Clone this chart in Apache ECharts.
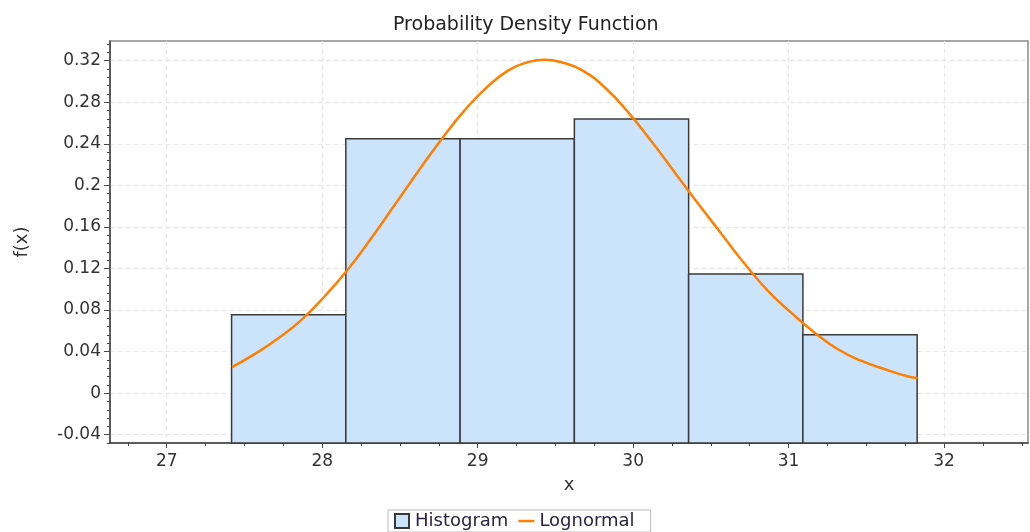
<!DOCTYPE html>
<html>
<head>
<meta charset="utf-8">
<script src="https://cdn.jsdelivr.net/npm/echarts@6/dist/echarts.min.js"></script>
<style>html,body{margin:0;padding:0;background:#fff}#c{width:1030px;height:532px}</style>
</head>
<body>
<div id="c"></div>
<script>
// ---- data ----
const binEdges = [27.417, 28.152, 28.887, 29.622, 30.357, 31.092, 31.827];
const binDensity = [0.0755, 0.2449, 0.2449, 0.2638, 0.1146, 0.0562];
const curveX = [27.42, 27.57, 27.72, 27.87, 28.02, 28.17, 28.32, 28.47, 28.62, 28.77, 28.92, 29.07, 29.20, 29.31, 29.43, 29.55, 29.67, 29.82, 29.97, 30.12, 30.27, 30.42, 30.57, 30.72, 30.87, 31.02, 31.17, 31.32, 31.47, 31.62, 31.77, 31.83];
const curveY = [0.025, 0.038, 0.053, 0.071, 0.094, 0.120, 0.150, 0.182, 0.214, 0.245, 0.273, 0.296, 0.311, 0.318, 0.321, 0.318, 0.311, 0.294, 0.270, 0.242, 0.212, 0.182, 0.153, 0.124, 0.098, 0.077, 0.058, 0.042, 0.031, 0.023, 0.016, 0.0145];
const xTicks = [27, 28, 29, 30, 31, 32];
const yTicks = [-0.04, 0, 0.04, 0.08, 0.12, 0.16, 0.2, 0.24, 0.28, 0.32];
const xRange = [26.635, 32.54];
const yRange = [-0.048, 0.339];

// minor tick positions
const xMinor = [];
for (let i = Math.ceil(xRange[0] * 4); i <= Math.floor(xRange[1] * 4); i++) xMinor.push(i / 4);
const yMinor = [];
for (let i = Math.ceil(yRange[0] / 0.008); i <= Math.floor(yRange[1] / 0.008); i++) yMinor.push(+(i * 0.008).toFixed(3));

const bins = binDensity.map((d, i) => [binEdges[i], binEdges[i + 1], d]);
const curve = curveX.map((x, i) => [x, curveY[i]]);

const font = 'DejaVu Sans, Verdana, sans-serif';
const chart = echarts.init(document.getElementById('c'));
const gridLine = { show: true, lineStyle: { color: '#e4e4e4', type: [4, 4], width: 1 } };

chart.setOption({
  animation: false,
  title: {
    text: 'Probability Density Function', left: 388, top: 11,
    textStyle: { fontFamily: font, fontSize: 19, fontWeight: 'normal', color: '#222' }
  },
  legend: {
    bottom: 0, left: 388,
    data: [
      { name: 'Histogram', icon: 'path://M0,0 H14 V14 H0 Z' },
      { name: 'Lognormal', icon: 'path://M0,0 H16 V2.5 H0 Z' }
    ],
    symbolKeepAspect: true,
    itemWidth: 16, itemHeight: 14, itemGap: 10,
    borderColor: '#bbb', borderWidth: 1, borderRadius: 0, padding: [2, 16, 2, 6],
    textStyle: { fontFamily: font, fontSize: 18, color: '#2a2440' }
  },
  grid: { left: 110, right: 2, top: 41, bottom: 89, show: true, borderColor: '#8a8a8a', borderWidth: 1.5 },
  xAxis: [{
    type: 'value', min: xRange[0], max: xRange[1],
    name: 'x', nameLocation: 'middle', nameGap: 33,
    nameTextStyle: { fontFamily: font, fontSize: 18, color: '#333' },
    axisLine: { show: true, onZero: false, lineStyle: { color: '#444', width: 1.5 } },
    axisTick: { show: true, length: 5, customValues: xTicks, lineStyle: { color: '#444' } },
    axisLabel: { customValues: xTicks, fontFamily: font, fontSize: 17, color: '#333', margin: 10 },
    splitLine: gridLine
  }, {
    type: 'value', min: xRange[0], max: xRange[1], position: 'bottom',
    axisLine: { show: false, onZero: false }, axisLabel: { show: false }, splitLine: { show: false },
    axisTick: { show: true, length: 3, customValues: xMinor, lineStyle: { color: '#444' } }
  }],
  yAxis: [{
    type: 'value', min: yRange[0], max: yRange[1],
    name: 'f(x)', nameLocation: 'middle', nameGap: 79, nameRotate: 90,
    nameTextStyle: { fontFamily: font, fontSize: 18, color: '#333' },
    axisLine: { show: true, onZero: false, lineStyle: { color: '#444', width: 1.5 } },
    axisTick: { show: true, length: 6, customValues: yTicks, lineStyle: { color: '#444' } },
    axisLabel: { customValues: yTicks, fontFamily: font, fontSize: 17, color: '#333', margin: 9 },
    splitLine: gridLine
  }, {
    type: 'value', min: yRange[0], max: yRange[1], position: 'left',
    axisLine: { show: false, onZero: false }, axisLabel: { show: false }, splitLine: { show: false },
    axisTick: { show: true, length: 3, customValues: yMinor, lineStyle: { color: '#444' } }
  }],
  series: [{
    name: 'Histogram', type: 'custom', xAxisIndex: 0, yAxisIndex: 0,
    itemStyle: { color: '#cce4fb', borderColor: '#3a3a3a', borderWidth: 1.5 },
    data: bins,
    encode: { x: [0, 1], y: 2 },
    renderItem: function (params, api) {
      const p0 = api.coord([api.value(0), api.value(2)]);
      const p1 = api.coord([api.value(1), yRange[0]]);
      return {
        type: 'rect',
        shape: { x: p0[0], y: p0[1], width: p1[0] - p0[0], height: p1[1] - p0[1] },
        style: { fill: '#cce4fb', stroke: '#3a3a3a', lineWidth: 1.5 }
      };
    },
    z: 2
  }, {
    name: 'Lognormal', type: 'line', xAxisIndex: 0, yAxisIndex: 0,
    data: curve, smooth: true, symbol: 'none', showSymbol: false,
    lineStyle: { color: '#ff8000', width: 2.5 }, itemStyle: { color: '#ff8000' },
    z: 3
  }]
});
</script>
</body>
</html>
